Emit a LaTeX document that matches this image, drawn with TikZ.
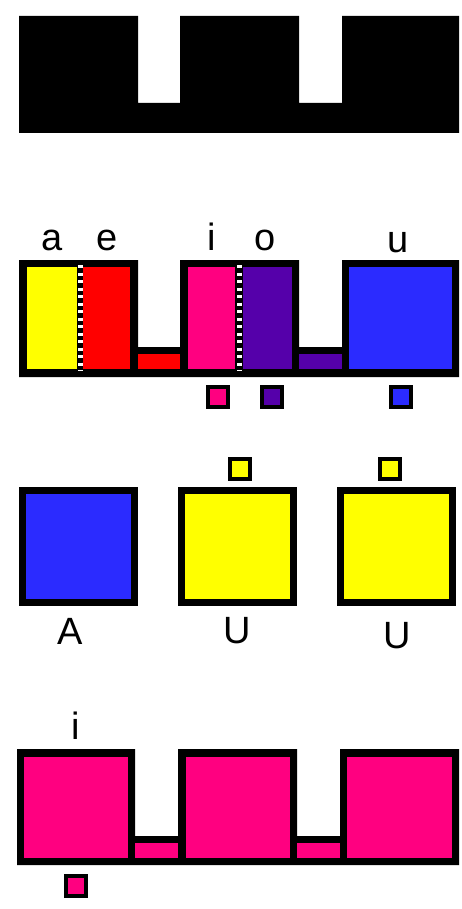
\documentclass[tikz,border=0pt]{standalone}
\usepackage{fontspec}
\setmainfont{Liberation Sans}
\usetikzlibrary{positioning}
\definecolor{vyellow}{HTML}{FFFF00}
\definecolor{vred}{HTML}{FF0000}
\definecolor{vpink}{HTML}{FF0080}
\definecolor{vpurple}{HTML}{5500AA}
\definecolor{vblue}{HTML}{2B2BFF}

\begin{document}
\begin{tikzpicture}[
    x=1pt, y=-1pt,
    node distance=40pt,
    letter/.style={anchor=base, inner sep=0pt, font=\fontsize{38}{40}\selectfont},
    cell/.style={draw, line width=7pt, minimum size=112pt, inner sep=0pt},
    chip/.style={draw, line width=4pt, minimum size=20pt, inner sep=0pt},
    divider/.style={white, line width=5pt, dash pattern=on 3pt off 4.5pt}]
    \useasboundingbox (0,0) rectangle (462,909);

    % row 1: plain black outline
    \fill (19,16) -- (138,16) -- (138,103) -- (180,103) -- (180,16) -- (299,16)
        -- (299,103) -- (342,103) -- (342,16) -- (459,16) -- (459,133) -- (19,133) -- cycle;

    % row 2: vowels a e i o u
    \fill (19,260) -- (138,260) -- (138,347) -- (180,347) -- (180,260) -- (299,260)
        -- (299,347) -- (342,347) -- (342,260) -- (459,260) -- (459,377) -- (19,377) -- cycle;
    \fill[vyellow] (27,267) rectangle (77,369);
    \fill[vred] (83,267) rectangle (130,369);
    \fill[vred] (138,354) rectangle (180,369);
    \fill[vpink] (188,267) rectangle (235,369);
    \fill[vpurple] (243,267) rectangle (292,369);
    \fill[vpurple] (299,354) rectangle (342,369);
    \fill[vblue] (349,267) rectangle (452,369);
    \draw[divider] (80,265) -- (80,371);
    \draw[divider] (239,265) -- (239,371);
    \node[letter] (la) at (52,250) {a};
    \node[letter] (le) at (107,250) {e};
    \node[letter] (li) at (212,250) {i};
    \node[letter] (lo) at (265,250) {o};
    \node[letter] (lu) at (398,252) {u};
    \node[chip, fill=vpink] (ci) at (218,396.5) {};
    \node[chip, fill=vpurple] (co) at (272,396.5) {};
    \node[chip, fill=vblue] (cu) at (401,396.5) {};

    % row 3: separate cells
    \node[cell, fill=vblue] (boxA) at (78.5,546.5) {};
    \node[cell, fill=vyellow, right=of boxA] (boxU) {};
    \node[cell, fill=vyellow, right=of boxU] (boxUU) {};
    \node[chip, fill=vyellow] (cU) at (240,468.5) {};
    \node[chip, fill=vyellow] (cUU) at (389.5,468.5) {};
    \node[letter] (lA) at (70,644) {A};
    \node[letter] (lU) at (237,643) {U};
    \node[letter] (lUU) at (397,648) {U};

    % row 4: all i
    \fill (17,749) -- (135,749) -- (135,836) -- (178,836) -- (178,749) -- (297,749)
        -- (297,836) -- (340,836) -- (340,749) -- (459,749) -- (459,865) -- (17,865) -- cycle;
    \fill[vpink] (24,757) rectangle (128,858);
    \fill[vpink] (135,843) rectangle (178,858);
    \fill[vpink] (186,757) rectangle (290,858);
    \fill[vpink] (297,843) rectangle (340,858);
    \fill[vpink] (347,757) rectangle (452,858);
    \node[letter] (li2) at (76,739) {i};
    \node[chip, fill=vpink] (ci2) at (76,885.5) {};
  \end{tikzpicture}
\end{document}
